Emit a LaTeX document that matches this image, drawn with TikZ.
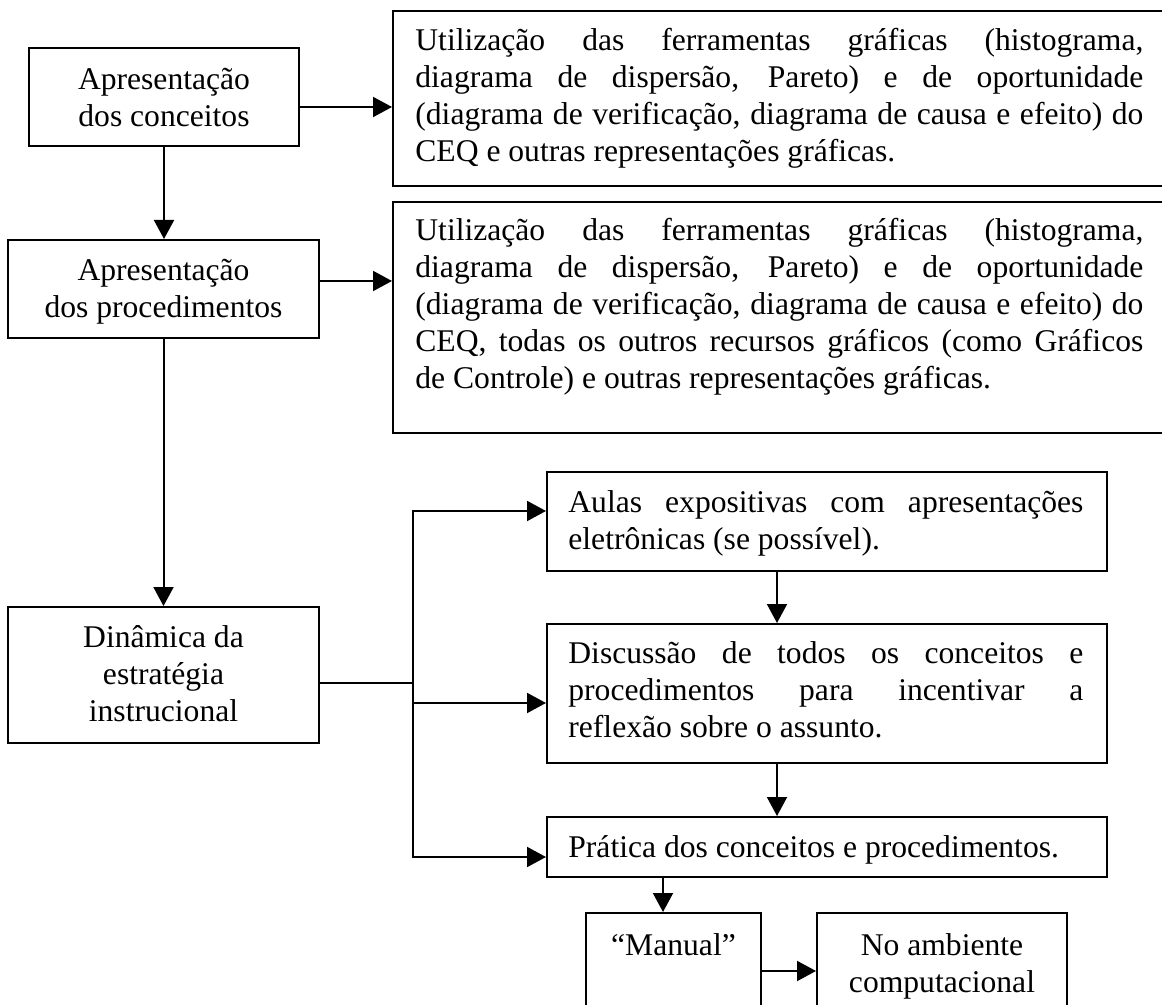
\documentclass[tikz,border=0pt]{standalone}
\usepackage{fontspec}
\setmainfont{Liberation Serif}
\usetikzlibrary{arrows.meta,fit}
\setlength\parindent{0pt}
\tolerance=10000
\hbadness=10000
\hyphenpenalty=10000
\begin{document}
\begin{tikzpicture}[x=0.5pt,y=-0.5pt,
  box/.style={draw=black,line width=1pt,inner sep=0pt,rectangle},
  txt/.style={inner sep=0pt,font=\fontsize{15.8}{18.5}\selectfont},
  para/.style={txt,anchor=north west,align=justify},
  mid/.style={txt,anchor=north,align=center},
  link/.style={line width=1pt,-{Triangle[length=9.5pt,width=10pt]}},
  wire/.style={line width=1pt}]
\fill[white] (0,0) rectangle (1162,1005);
\clip (0,0) rectangle (1162,1005);

% left column
\node[box,fit={(29,48) (299,146)}] (bA) {};
\node[mid] (tA) at (164,63.1) {\strut Apresentação\\dos conceitos};
\node[box,fit={(8,240) (319,338)}] (bB) {};
\node[mid] (tB) at (163.5,254.1) {\strut Apresentação\\dos procedimentos};
\node[box,fit={(8,607) (319,743)}] (bC) {};
\node[mid] (tC) at (163.5,621.1) {\strut Dinâmica da\\estratégia\\instrucional};

% wide boxes on the right
\node[box,fit={(393,11) (1180,186)}] (b1) {};
\node[para,text width=364pt] (t1) at (415,24.1) {\strut Utilização das ferramentas gráficas (histograma,\linebreak
diagrama de dispersão, Pareto) e de oportunidade\linebreak
(diagrama de verificação, diagrama de causa e efeito) do\linebreak
CEQ e outras representações gráficas.};
\node[box,fit={(393,202) (1180,433)}] (b2) {};
\node[para,text width=364pt] (t2) at (415,214.1) {\strut Utilização das ferramentas gráficas (histograma,\linebreak
diagrama de dispersão, Pareto) e de oportunidade\linebreak
(diagrama de verificação, diagrama de causa e efeito) do\linebreak
CEQ, todas os outros recursos gráficos (como Gráficos\linebreak
de Controle) e outras representações gráficas.};

% instructional dynamics
\node[box,fit={(547,472) (1107,571)}] (bD) {};
\node[para,text width=257.5pt] (tD) at (568,486.1) {\strut Aulas expositivas com apresentações\linebreak
eletrônicas (se possível).};
\node[box,fit={(547,624) (1107,763)}] (bE) {};
\node[para,text width=257.5pt] (tE) at (568,637.1) {\strut Discussão de todos os conceitos e\linebreak
procedimentos para incentivar a\linebreak
reflexão sobre o assunto.};
\node[box,fit={(547,817) (1107,877)}] (bF) {};
\node[para,text width=257.5pt] (tF) at (568,831.1) {\strut Prática dos conceitos e procedimentos.};
\node[box,fit={(586,913) (761,1020)}] (bG) {};
\node[mid] (tG) at (673.5,929.1) {\strut “Manual”};
\node[box,fit={(817,913) (1067,1020)}] (bH) {};
\node[mid] (tH) at (942,929.1) {\strut No ambiente\\computacional};

% connectors
\draw[link] (bA.south) -- (bA.south |- bB.north);
\draw[link] (bA.east |- 0,107) -- (b1.west |- 0,107);
\draw[link] (bB.east |- 0,281) -- (b2.west |- 0,281);
\draw[link] (bB.south) -- (bB.south |- bC.north);

\coordinate (hub) at (413,683);
\draw[wire] (bC.east |- hub) -- (hub);
\draw[link] (hub) |- (bD.west |- 0,511);
\draw[link] (hub |- 0,703) -- (bE.west |- 0,703);
\draw[link] (hub) |- (bF.west |- 0,857);

\draw[link] (bD.south -| 777,0) -- (bE.north -| 777,0);
\draw[link] (bE.south -| 777,0) -- (bF.north -| 777,0);
\draw[link] (bF.south -| 663,0) -- (bG.north -| 663,0);
\draw[link] (bG.east |- 0,971) -- (bH.west |- 0,971);
\end{tikzpicture}
\end{document}
